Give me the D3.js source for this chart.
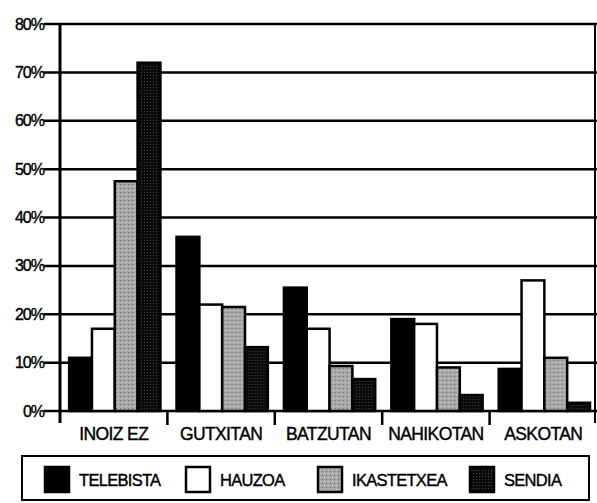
<!DOCTYPE html>
<html>
<head>
<meta charset="utf-8">
<script src="https://cdn.jsdelivr.net/npm/d3@7"></script>
<style>
  body { margin: 0; background: #fff; }
  svg { display: block; }
  text { font-family: "Liberation Sans", Arial, sans-serif; fill: #000; stroke: #000; stroke-width: 0.4; }
</style>
</head>
<body>
<svg width="597" height="503"></svg>
<script>
// data
var categories = ["INOIZ EZ", "GUTXITAN", "BATZUTAN", "NAHIKOTAN", "ASKOTAN"];
var seriesNames = ["TELEBISTA", "HAUZOA", "IKASTETXEA", "SENDIA"];
var telebista = [11, 36, 25.5, 19, 8.7];
var hauzoa = [17, 22, 17, 18, 27];
var ikastetxea = [47.5, 21.5, 9.3, 9, 11];
var sendia = [72, 13.2, 6.6, 3.3, 1.7];
var yTicks = [0, 10, 20, 30, 40, 50, 60, 70, 80];

var seriesValues = [telebista, hauzoa, ikastetxea, sendia];

var svg = d3.select("svg");

// patterns for the grey and dark bars
var defs = svg.append("defs");
var pg = defs.append("pattern").attr("id", "pGrey")
  .attr("width", 4).attr("height", 4).attr("patternUnits", "userSpaceOnUse");
pg.append("rect").attr("width", 4).attr("height", 4).attr("fill", "#a8a8a8");
pg.append("rect").attr("width", 1).attr("height", 1).attr("fill", "#6a6a6a");
pg.append("rect").attr("x", 2).attr("y", 2).attr("width", 1).attr("height", 1).attr("fill", "#d0d0d0");

var pd = defs.append("pattern").attr("id", "pDark")
  .attr("width", 3).attr("height", 3).attr("patternUnits", "userSpaceOnUse");
pd.append("rect").attr("width", 3).attr("height", 3).attr("fill", "#0a0a0a");
pd.append("rect").attr("width", 1).attr("height", 1).attr("fill", "#444");

var fills = ["#000", "#fff", "url(#pGrey)", "url(#pDark)"];

var x0 = d3.scaleBand().domain(categories).range([60, 597]);
var x1 = d3.scaleBand().domain(seriesNames)
  .range([x0.bandwidth() * 0.085, x0.bandwidth() * 0.935]);
var y = d3.scaleLinear().domain([0, 80]).range([411, 24]);

// grid lines
svg.append("g").selectAll("line").data(yTicks).enter().append("line")
  .attr("x1", 44).attr("x2", 597)
  .attr("y1", function (d) { return y(d); })
  .attr("y2", function (d) { return y(d); })
  .attr("stroke", "#000").attr("stroke-width", 2.5);

// y labels
svg.append("g").selectAll("text").data(yTicks).enter().append("text")
  .attr("x", 44).attr("y", function (d) { return y(d); })
  .attr("dy", "0.35em").attr("text-anchor", "end")
  .attr("font-size", 16).attr("letter-spacing", -1)
  .text(function (d) { return d + "%"; });

// bars
var groups = svg.append("g").selectAll("g").data(categories).enter().append("g")
  .attr("transform", function (d) { return "translate(" + x0(d) + ",0)"; });

groups.selectAll("rect")
  .data(function (c, ci) {
    return seriesNames.map(function (s, si) {
      return { s: s, i: si, v: seriesValues[si][ci] };
    });
  })
  .enter().append("rect")
  .attr("x", function (d) { return x1(d.s); })
  .attr("y", function (d) { return y(d.v); })
  .attr("width", x1.bandwidth())
  .attr("height", function (d) { return y(0) - y(d.v); })
  .attr("fill", function (d) { return fills[d.i]; })
  .attr("stroke", "#000").attr("stroke-width", 2.5);

// axes
svg.append("line").attr("x1", 60).attr("x2", 60).attr("y1", y(80)).attr("y2", 423)
  .attr("stroke", "#000").attr("stroke-width", 3);
svg.append("line").attr("x1", 595).attr("x2", 595).attr("y1", y(80)).attr("y2", 423)
  .attr("stroke", "#000").attr("stroke-width", 2);

svg.append("g").selectAll("line").data(categories.slice(1)).enter().append("line")
  .attr("x1", function (d) { return x0(d); })
  .attr("x2", function (d) { return x0(d); })
  .attr("y1", 411).attr("y2", 425)
  .attr("stroke", "#000").attr("stroke-width", 2.5);

svg.append("g").selectAll("text").data(categories).enter().append("text")
  .attr("x", function (d) { return x0(d) + x0.bandwidth() / 2; })
  .attr("y", 440).attr("text-anchor", "middle")
  .attr("font-size", 17.5).attr("letter-spacing", -0.6)
  .text(function (d) { return d; });

// legend
var legend = svg.append("g");
legend.append("rect").attr("x", 22).attr("y", 456).attr("width", 567).attr("height", 44)
  .attr("fill", "#fff").attr("stroke", "#000").attr("stroke-width", 2);

var legendX = [45, 186, 318, 470];
var item = legend.selectAll(".legend-item").data(seriesNames).enter().append("g")
  .attr("class", "legend-item")
  .attr("transform", function (d, i) { return "translate(" + legendX[i] + ",467)"; });
item.append("rect").attr("width", 24).attr("height", 25)
  .attr("fill", function (d, i) { return fills[i]; })
  .attr("stroke", "#000").attr("stroke-width", 2.5);
item.append("text").attr("x", 34).attr("y", 13).attr("dy", "0.35em")
  .attr("font-size", 16.5).attr("letter-spacing", -0.7)
  .text(function (d) { return d; });
</script>
</body>
</html>
